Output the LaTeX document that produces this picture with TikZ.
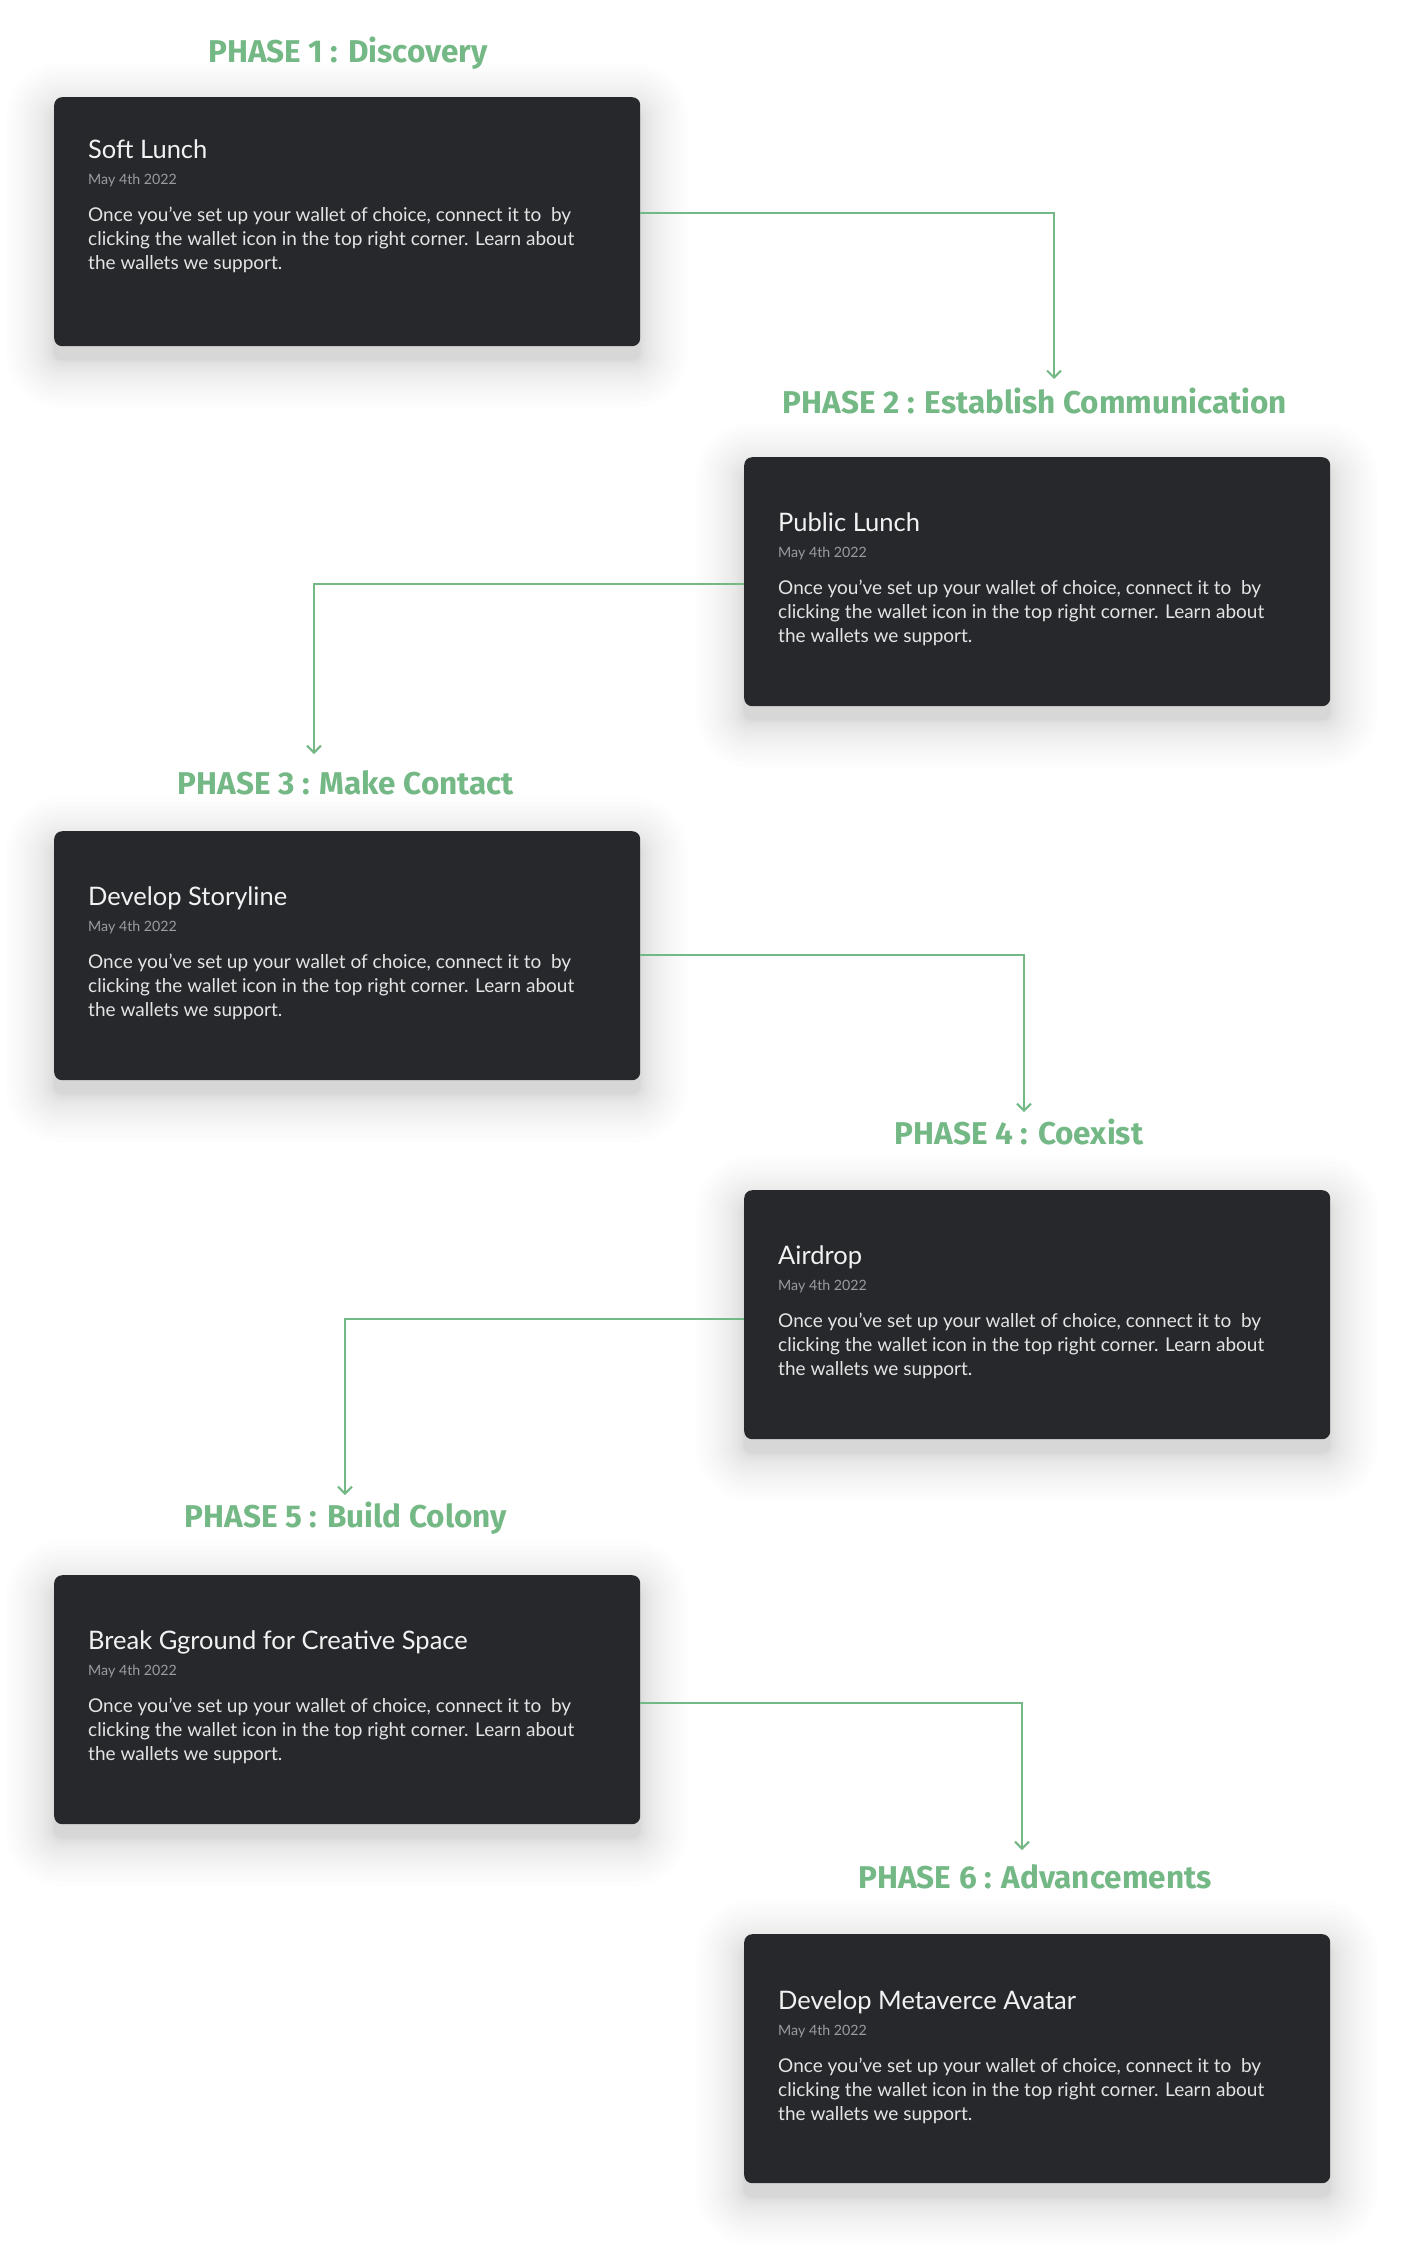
\documentclass[tikz,border=0pt]{standalone}
\usepackage{fontspec}
\setmainfont{Lato}
\newfontfamily\phasefont{Fira Sans}
\usetikzlibrary{arrows.meta,calc}
\definecolor{cardbg}{HTML}{26282C}
\definecolor{phasegreen}{HTML}{74B886}
\definecolor{titlewhite}{HTML}{F2F2F2}
\definecolor{bodywhite}{HTML}{E4E4E4}
\definecolor{dategray}{HTML}{9A9B9D}
\tikzset{
 card/.style={fill=cardbg, rounded corners=8pt, minimum width=586pt, minimum height=249pt, inner sep=0pt, anchor=north west},
 phase/.style={text=phasegreen, font=\phasefont\bfseries\fontsize{31.5}{36}\selectfont, inner sep=0pt},
 ctitle/.style={text=titlewhite, font=\fontsize{25.5}{30}\selectfont, inner sep=0pt, anchor=base west},
 cdate/.style={text=dategray, font=\fontsize{14.2}{17}\selectfont, inner sep=0pt, anchor=base west},
 cbody/.style={text=bodywhite, font=\fontsize{19}{24}\selectfont, inner sep=0pt, anchor=north west, align=left},
 conn/.style={draw=phasegreen, line width=2pt, -{Straight Barb[length=7pt,width=14pt,line width=2pt]}},
}
% #1 name, #2 x, #3 y, #4 title, #5 text offset
\newcommand\phasecard[5]{%
 \foreach \k in {1,...,20}{%
  \pgfmathsetmacro\ee{0.12*\k*\k}%
  \pgfmathsetmacro\rr{8+\ee}%
  \fill[black,opacity=0.0095,rounded corners=\rr pt] (#2-\ee, #3-\ee+14) rectangle (#2+586+\ee, #3+249+\ee+14);}
 \node[card] (#1) at (#2,#3) {};
 \node[ctitle] (#1t) at ($(#1.north west)+(34,61+#5)$) {#4};
 \node[cdate] (#1d) at ($(#1.north west)+(34,87+#5)$) {May 4th 2022};
 \node[cbody] (#1b) at ($(#1.north west)+(34,110+#5)$) {Once you’ve set up your wallet of choice, connect it to\ \ by\\clicking the wallet icon in the top right corner. Learn about\\the wallets we support.};
}
\begin{document}
\begin{tikzpicture}[x=1pt,y=-1pt]
\useasboundingbox (0,0) rectangle (1406,2259);
\fill[white] (0,0) rectangle (1406,2259);
\phasecard{c1}{54}{97}{Soft Lunch}{0}
\phasecard{c2}{744}{457}{Public Lunch}{13}
\phasecard{c3}{54}{831}{Develop Storyline}{13}
\phasecard{c4}{744}{1190}{Airdrop}{13}
\phasecard{c5}{54}{1575}{Break Gground for Creative Space}{13}
\phasecard{c6}{744}{1934}{Develop Metaverce Avatar}{14}
\node[phase] (p1) at (348,53) {PHASE 1 : Discovery};
\node[phase] (p2) at (1035,401) {PHASE 2 : Establish Communication};
\node[phase] (p3) at (346,783) {PHASE 3 : Make Contact};
\node[phase] (p4) at (1019,1132) {PHASE 4 : Coexist};
\node[phase] (p5) at (346,1518) {PHASE 5 : Build Colony};
\node[phase] (p6) at (1035,1877) {PHASE 6 : Advancements};
\coordinate (a1) at (1054,379);
\coordinate (a2) at (314,754);
\coordinate (a3) at (1024,1112);
\coordinate (a4) at (345,1495);
\coordinate (a5) at (1022,1850);
\draw[conn] ($(c1.north east)+(0,116)$) -| (a1);
\draw[conn] ($(c2.north west)+(0,127)$) -| (a2);
\draw[conn] ($(c3.north east)+(0,124)$) -| (a3);
\draw[conn] ($(c4.north west)+(0,129)$) -| (a4);
\draw[conn] ($(c5.north east)+(0,128)$) -| (a5);
\end{tikzpicture}
\end{document}
